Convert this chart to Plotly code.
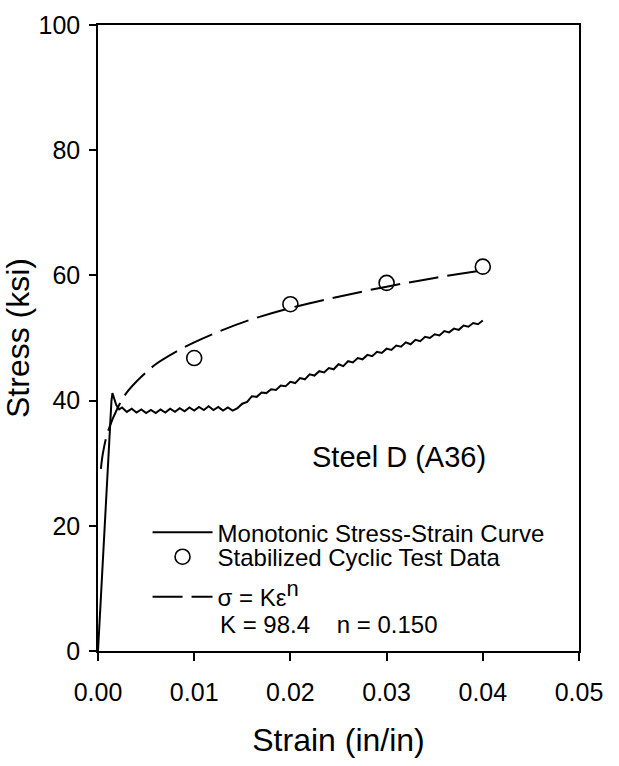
import plotly.graph_objects as go

# ---- data ----
mono_strain = [0.0000, 0.0005, 0.0010, 0.0014, 0.0015, 0.0017, 0.0019, 0.0022,
               0.0025, 0.0030, 0.0035, 0.0040, 0.0045, 0.0050, 0.0055, 0.0060,
               0.0065, 0.0070, 0.0075, 0.0080, 0.0085, 0.0090, 0.0095, 0.0100,
               0.0105, 0.0110, 0.0115, 0.0120, 0.0125, 0.0130, 0.0135, 0.0140,
               0.0145, 0.0150, 0.0155, 0.0160, 0.0165, 0.0170, 0.0175, 0.0180,
               0.0185, 0.0190, 0.0195, 0.0200, 0.0205, 0.0210, 0.0215, 0.0220,
               0.0225, 0.0230, 0.0235, 0.0240, 0.0245, 0.0250, 0.0255, 0.0260,
               0.0265, 0.0270, 0.0275, 0.0280, 0.0285, 0.0290, 0.0295, 0.0300,
               0.0305, 0.0310, 0.0315, 0.0320, 0.0325, 0.0330, 0.0335, 0.0340,
               0.0345, 0.0350, 0.0355, 0.0360, 0.0365, 0.0370, 0.0375, 0.0380,
               0.0385, 0.0390, 0.0395, 0.0400]
mono_stress = [0.0, 14.6, 29.2, 40.0, 41.2, 40.2, 39.3, 38.6,
               38.9, 38.2, 38.7, 38.1, 38.6, 38.0, 38.5, 38.0,
               38.6, 38.1, 38.7, 38.2, 38.8, 38.3, 38.9, 38.4,
               39.0, 38.5, 39.1, 38.5, 39.0, 38.4, 38.9, 38.4,
               38.8, 39.5, 39.8, 40.7, 40.6, 41.3, 41.2, 41.8,
               41.7, 42.4, 42.3, 43.0, 42.8, 43.6, 43.4, 44.2,
               44.0, 44.7, 44.5, 45.2, 45.0, 45.8, 45.5, 46.3,
               46.1, 46.8, 46.6, 47.3, 47.1, 47.8, 47.6, 48.3,
               48.1, 48.8, 48.6, 49.3, 49.0, 49.7, 49.5, 50.2,
               50.0, 50.6, 50.4, 51.1, 50.9, 51.5, 51.3, 52.0,
               51.8, 52.4, 52.2, 52.8]

cyclic_strain = [0.01, 0.02, 0.03, 0.04]
cyclic_stress = [46.8, 55.4, 58.8, 61.4]

fit_strain = [0.0003, 0.0005, 0.0010, 0.0020, 0.0030, 0.0045, 0.0060, 0.0080,
              0.0100, 0.0130, 0.0160, 0.0200, 0.0250, 0.0300, 0.0350, 0.0400]
fit_stress = [29.1, 31.5, 34.9, 38.7, 41.3, 43.8, 45.8, 47.7,
              49.3, 51.3, 53.0, 54.8, 56.6, 58.2, 59.6, 60.8]

x_tick_vals = [0.00, 0.01, 0.02, 0.03, 0.04, 0.05]
x_tick_text = ["0.00", "0.01", "0.02", "0.03", "0.04", "0.05"]
y_tick_vals = [0, 20, 40, 60, 80, 100]
y_tick_text = ["0", "20", "40", "60", "80", "100"]

FONT = "Arial, Liberation Sans, Helvetica, sans-serif"
NB = "\u00a0"

fig = go.Figure()

fig.add_trace(go.Scatter(
    x=mono_strain, y=mono_stress, mode="lines",
    line=dict(color="black", width=2),
    name="Monotonic Stress-Strain Curve", legend="legend"))

fig.add_trace(go.Scatter(
    x=fit_strain, y=fit_stress, mode="lines",
    line=dict(color="black", width=2, dash="30px,9px", shape="spline"),
    name="\u03c3 = K\u03b5<sup><span style=\"font-size:22px\">n</span></sup>",
    legend="legend3"))

fig.add_trace(go.Scatter(
    x=cyclic_strain, y=cyclic_stress, mode="markers",
    marker=dict(symbol="circle-open", size=15, color="black",
                line=dict(width=1.6, color="black")),
    name="Stabilized Cyclic Test Data", legend="legend2"))

leg_common = dict(xanchor="left", yanchor="middle", bgcolor="rgba(0,0,0,0)",
                  font=dict(family=FONT, size=24, color="black"),
                  itemwidth=60, borderwidth=0)

fig.update_layout(
    width=619, height=766,
    margin=dict(l=98, r=40, t=25, b=115),
    paper_bgcolor="white", plot_bgcolor="white",
    font=dict(family=FONT, color="black"),
    showlegend=True,
    legend=dict(x=0.103, y=0.189, **leg_common),
    legend2=dict(x=0.103, y=0.150, **leg_common),
    legend3=dict(x=0.103, y=0.086, **leg_common),
    xaxis=dict(range=[0, 0.05], tickvals=x_tick_vals, ticktext=x_tick_text,
               showline=True, linecolor="black", linewidth=1.5, mirror=True,
               ticks="outside", ticklen=8, tickwidth=1.5, tickcolor="black",
               ticklabelstandoff=10,
               showgrid=False, zeroline=False,
               tickfont=dict(family=FONT, size=25, color="black"),
               title=dict(text="Strain (in/in)", standoff=24,
                          font=dict(family=FONT, size=32, color="black"))),
    yaxis=dict(range=[0, 100], tickvals=y_tick_vals, ticktext=y_tick_text,
               showline=True, linecolor="black", linewidth=1.5, mirror=True,
               ticks="outside", ticklen=7, tickwidth=1.5, tickcolor="black",
               ticklabelstandoff=4,
               showgrid=False, zeroline=False,
               tickfont=dict(family=FONT, size=25, color="black"),
               title=dict(text="Stress (ksi)", standoff=0,
                          font=dict(family=FONT, size=32, color="black"))),
)

fig.add_annotation(x=0.0313, y=31.0, xref="x", yref="y", text="Steel D (A36)",
                   showarrow=False, xanchor="center", yanchor="middle",
                   font=dict(family=FONT, size=29, color="black"))
fig.add_annotation(x=0.01247, y=4.3, xref="x", yref="y",
                   text="K = 98.4" + NB * 4 + "n = 0.150",
                   showarrow=False, xanchor="left", yanchor="middle",
                   font=dict(family=FONT, size=24, color="black"))

fig.write_html("out.html")
